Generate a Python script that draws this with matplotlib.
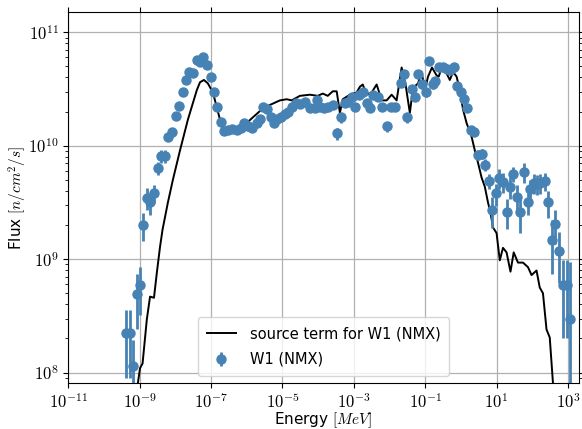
import numpy as np
import matplotlib
matplotlib.use("Agg")
import matplotlib.pyplot as plt
from matplotlib.ticker import NullLocator, FuncFormatter

plt.rcParams['mathtext.fontset'] = 'cm'
plt.rcParams['font.family'] = ['DejaVu Sans']

# source term (log10 of energy in MeV, log10 of flux)
source_log_energy = [
    -9.08, -9.05, -8.99, -8.92, -8.80, -8.71, -8.60, -8.52, -8.43, -8.36,
    -8.21, -8.07, -7.87, -7.65, -7.40, -7.31, -7.20, -7.09, -6.95, -6.84,
    -6.75, -6.67, -6.61, -6.53, -6.39, -6.11, -5.83, -5.58, -5.35, -5.07,
    -4.88, -4.74, -4.51, -4.23, -4.01, -3.87, -3.73, -3.59, -3.48, -3.39,
    -3.31, -3.11, -2.92, -2.83, -2.75, -2.64, -2.50, -2.36, -2.22, -2.08,
    -1.94, -1.80, -1.66, -1.55, -1.43, -1.34, -1.20, -1.10, -1.01, -0.92,
    -0.81, -0.68, -0.62, -0.54, -0.45, -0.31, -0.22, -0.12, -0.03, 0.06,
    0.16, 0.30, 0.39, 0.48, 0.58, 0.67, 0.76, 0.83, 0.90, 1.00,
    1.09, 1.18, 1.28, 1.39, 1.48, 1.60, 1.74, 1.88, 1.98, 2.12,
    2.21, 2.30, 2.40, 2.49, 2.58, 2.61]
source_log_flux = [
    7.76, 7.91, 8.04, 8.08, 8.47, 8.67, 8.66, 8.88, 9.11, 9.26,
    9.50, 9.70, 9.96, 10.23, 10.49, 10.56, 10.58, 10.55, 10.47, 10.34,
    10.23, 10.16, 10.10, 10.11, 10.14, 10.17, 10.25, 10.32, 10.36, 10.40,
    10.41, 10.40, 10.44, 10.45, 10.44, 10.46, 10.44, 10.48, 10.48, 10.29,
    10.41, 10.45, 10.47, 10.52, 10.54, 10.45, 10.47, 10.54, 10.40, 10.40,
    10.45, 10.40, 10.69, 10.54, 10.29, 10.51, 10.55, 10.65, 10.49, 10.61,
    10.69, 10.62, 10.61, 10.69, 10.67, 10.58, 10.65, 10.61, 10.49, 10.32,
    10.20, 10.08, 9.96, 9.85, 9.72, 9.64, 9.50, 9.41, 9.28, 9.23,
    8.99, 9.10, 9.06, 8.89, 9.06, 8.97, 8.97, 8.93, 8.86, 8.90,
    8.75, 8.70, 8.38, 8.31, 7.91, 7.76]

# W1 (NMX) measurement
w1_log_energy = [
    -9.38, -9.27, -9.20, -9.08, -8.99, -8.91, -8.80, -8.71, -8.60, -8.50,
    -8.40, -8.29, -8.21, -8.10, -7.98, -7.90, -7.80, -7.70, -7.61, -7.50,
    -7.40, -7.31, -7.22, -7.12, -7.01, -6.92, -6.82, -6.72, -6.64, -6.52,
    -6.41, -6.28, -6.17, -6.07, -5.96, -5.85, -5.72, -5.63, -5.54, -5.44,
    -5.33, -5.24, -5.15, -5.04, -4.93, -4.84, -4.74, -4.62, -4.51, -4.37,
    -4.23, -4.09, -4.04, -3.95, -3.84, -3.72, -3.58, -3.47, -3.37, -3.25,
    -3.16, -3.06, -2.97, -2.85, -2.74, -2.64, -2.55, -2.46, -2.32, -2.22,
    -2.08, -1.97, -1.85, -1.69, -1.60, -1.50, -1.38, -1.29, -1.20, -1.08,
    -0.99, -0.89, -0.79, -0.73, -0.61, -0.50, -0.40, -0.31, -0.20, -0.10,
    -0.01, 0.08, 0.18, 0.27, 0.38, 0.48, 0.58, 0.67, 0.78, 0.88,
    0.98, 1.07, 1.17, 1.28, 1.37, 1.47, 1.58, 1.67, 1.76, 1.87,
    1.95, 2.05, 2.14, 2.23, 2.35, 2.45, 2.56, 2.65, 2.75, 2.85,
    2.96, 3.05]
w1_log_flux = [
    8.35, 8.35, 8.06, 8.69, 8.77, 9.30, 9.54, 9.50, 9.58, 9.80,
    9.91, 9.91, 10.08, 10.12, 10.26, 10.35, 10.47, 10.58, 10.65, 10.64,
    10.76, 10.74, 10.78, 10.71, 10.61, 10.47, 10.34, 10.21, 10.13, 10.14,
    10.15, 10.14, 10.16, 10.20, 10.17, 10.16, 10.20, 10.24, 10.34, 10.32,
    10.25, 10.20, 10.24, 10.25, 10.28, 10.30, 10.34, 10.38, 10.37, 10.39,
    10.33, 10.33, 10.40, 10.34, 10.33, 10.34, 10.36, 10.11, 10.25, 10.38,
    10.39, 10.43, 10.34, 10.45, 10.47, 10.38, 10.33, 10.45, 10.43, 10.34,
    10.17, 10.34, 10.34, 10.55, 10.63, 10.25, 10.50, 10.43, 10.63, 10.54,
    10.47, 10.75, 10.54, 10.57, 10.69, 10.69, 10.68, 10.67, 10.69, 10.53,
    10.47, 10.41, 10.33, 10.14, 10.12, 9.92, 9.93, 9.83, 9.69, 9.43,
    9.58, 9.72, 9.68, 9.42, 9.64, 9.75, 9.55, 9.42, 9.77, 9.50,
    9.62, 9.67, 9.66, 9.67, 9.69, 9.50, 9.17, 9.31, 9.07, 8.77,
    8.77, 8.47]
# relative (1 sigma) error of each W1 point
w1_rel_err = [
    0.60, 0.60, 0.70, 0.50, 0.45, 0.28, 0.22, 0.22, 0.18, 0.13,
    0.13, 0.13, 0.09, 0.09, 0.07, 0.07, 0.07, 0.07, 0.07, 0.07,
    0.07, 0.07, 0.07, 0.07, 0.07, 0.07, 0.07, 0.07, 0.07, 0.07,
    0.08, 0.08, 0.08, 0.08, 0.08, 0.08, 0.08, 0.08, 0.08, 0.08,
    0.08, 0.08, 0.08, 0.08, 0.08, 0.08, 0.08, 0.08, 0.08, 0.08,
    0.08, 0.08, 0.08, 0.08, 0.08, 0.08, 0.08, 0.12, 0.10, 0.08,
    0.08, 0.08, 0.08, 0.08, 0.08, 0.08, 0.08, 0.08, 0.08, 0.08,
    0.10, 0.08, 0.08, 0.08, 0.08, 0.10, 0.08, 0.08, 0.08, 0.08,
    0.08, 0.08, 0.08, 0.08, 0.08, 0.08, 0.08, 0.08, 0.08, 0.08,
    0.08, 0.08, 0.08, 0.08, 0.08, 0.10, 0.10, 0.12, 0.15, 0.30,
    0.22, 0.20, 0.20, 0.30, 0.22, 0.15, 0.27, 0.35, 0.20, 0.22,
    0.20, 0.20, 0.20, 0.20, 0.18, 0.27, 0.50, 0.33, 0.47, 0.66,
    0.66, 2.20]

source_energy = 10 ** np.array(source_log_energy)
source_flux = 10 ** np.array(source_log_flux)
w1_energy = 10 ** np.array(w1_log_energy)
w1_flux = 10 ** np.array(w1_log_flux)
w1_err = w1_flux * np.array(w1_rel_err)


def power_label(value, pos):
    """Tick label as 10^n, drawn in Computer Modern"""
    return r'$10^{%d}$' % round(np.log10(value))


fig = plt.figure(figsize=(5.82, 4.29), dpi=100)
ax = fig.add_axes([0.1174, 0.1072, 0.8769, 0.8648])

ax.plot(source_energy, source_flux, color='black', linewidth=1.4,
        label='source term for W1 (NMX)')
ax.errorbar(w1_energy, w1_flux, yerr=w1_err, fmt='o', color='steelblue',
            markersize=6.5, elinewidth=2, label='W1 (NMX)')

ax.set_xscale('log')
ax.set_yscale('log')
ax.set_xlim(1e-11, 2e3)
ax.set_ylim(8.1e7, 1.51e11)
ax.set_xticks([1e-11, 1e-9, 1e-7, 1e-5, 1e-3, 1e-1, 1e1, 1e3])
ax.xaxis.set_minor_locator(NullLocator())
ax.xaxis.set_major_formatter(FuncFormatter(power_label))
ax.yaxis.set_major_formatter(FuncFormatter(power_label))
ax.tick_params(which='both', top=True, right=True, labelsize=12)
ax.grid(True, which='major', color='#b0b0b0', linewidth=0.9)
ax.set_xlabel('Energy $[MeV]$', fontsize=11, labelpad=-1)
ax.set_ylabel('Flux $[n/cm^2/s]$', fontsize=11, labelpad=-1)
ax.legend(loc='lower center', fontsize=10.5, borderpad=0.6,
          labelspacing=0.75, handletextpad=0.95)

fig.savefig('out.png', dpi=100)
